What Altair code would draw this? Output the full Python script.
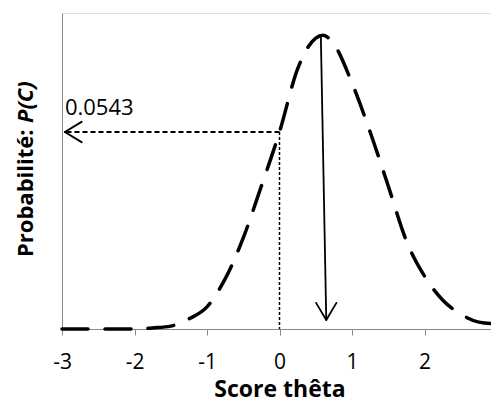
import altair as alt
import pandas as pd

# Curve values
theta = [-3.0, -2.75, -2.5, -2.25, -2.0, -1.75, -1.5, -1.25, -1.0, -0.75, -0.5, -0.25,
         0.0, 0.25, 0.5, 0.6, 0.75, 1.0, 1.25, 1.5, 1.75, 2.0, 2.25, 2.5, 2.75, 3.0]
prob = [0.0, 0.0, 0.0, 0.0, 0.0, 0.0003, 0.0008, 0.0028, 0.0061, 0.0138, 0.0251, 0.0394,
        0.0543, 0.0717, 0.0802, 0.0810, 0.0785, 0.0678, 0.0543, 0.0394, 0.0243, 0.0146,
        0.0080, 0.0041, 0.0019, 0.0014]

x_ticks = [-3, -2.5, -2, -1.5, -1, -0.5, 0, 0.5, 1, 1.5, 2, 2.5, 3]

# Annotations
ref_theta = 0.0
ref_prob = 0.0543
ref_label = "0.0543"
left_tip = -2.96
peak_top = (0.57, 0.0810)
peak_tip = (0.645, 0.0025)

curve_df = pd.DataFrame({"theta": theta, "p": prob})

x_scale = alt.Scale(domain=[-3, 3], nice=False, zero=False)
y_scale = alt.Scale(domain=[0, 0.0871], nice=False, zero=True)
GRAY = "#898989"

curve = alt.Chart(curve_df).mark_line(
    color="black", strokeWidth=3.5, strokeDash=[26, 17], strokeCap="round",
    interpolate="monotone"
).encode(
    x=alt.X("theta:Q", scale=x_scale, axis=alt.Axis(
        values=x_ticks, title="Score thêta", grid=False,
        labelExpr="datum.value % 1 == 0 ? '' + datum.value : ''",
        domainColor=GRAY, tickColor=GRAY, tickSize=6, labelFlush=False,
        labelFont="Open Sans", labelFontSize=21, labelColor="black",
        labelBaseline="alphabetic", labelPadding=33, labelOverlap=False,
        titleFont="Open Sans", titleFontSize=23, titleFontWeight="bold",
        titleColor="black", titleBaseline="alphabetic", titleY=67)),
    y=alt.Y("p:Q", scale=y_scale, axis=alt.Axis(
        title=None, labels=False, ticks=False, grid=False, domainColor=GRAY)),
)

# horizontal dashed arrow shaft
hdf = pd.DataFrame({"x": [ref_theta], "x2": [left_tip], "y": [ref_prob], "y2": [ref_prob]})
hline = alt.Chart(hdf).mark_rule(color="black", strokeWidth=2, strokeDash=[5, 3]).encode(
    x=alt.X("x:Q", scale=x_scale), x2="x2:Q",
    y=alt.Y("y:Q", scale=y_scale), y2="y2:Q")

# vertical dotted line
vdf = pd.DataFrame({"x": [ref_theta], "x2": [ref_theta], "y": [ref_prob], "y2": [0.0]})
vline = alt.Chart(vdf).mark_rule(color="black", strokeWidth=1.5, strokeDash=[3, 2]).encode(
    x=alt.X("x:Q", scale=x_scale), x2="x2:Q",
    y=alt.Y("y:Q", scale=y_scale), y2="y2:Q")

# peak arrow shaft
pdf = pd.DataFrame({"x": [peak_top[0]], "x2": [peak_tip[0]], "y": [peak_top[1]], "y2": [peak_tip[1]]})
pline = alt.Chart(pdf).mark_rule(color="black", strokeWidth=1.8).encode(
    x=alt.X("x:Q", scale=x_scale), x2="x2:Q",
    y=alt.Y("y:Q", scale=y_scale), y2="y2:Q")

# arrow heads (chevrons)
heads = pd.DataFrame({
    "x": [left_tip, left_tip, peak_tip[0], peak_tip[0]],
    "x2": [left_tip + 0.23, left_tip + 0.23, peak_tip[0] - 0.14, peak_tip[0] + 0.14],
    "y": [ref_prob, ref_prob, peak_tip[1], peak_tip[1]],
    "y2": [ref_prob + 0.0028, ref_prob - 0.0028, peak_tip[1] + 0.0047, peak_tip[1] + 0.0047],
    "w": [2.0, 2.0, 1.8, 1.8],
})
head_marks = alt.Chart(heads).mark_rule(color="black", strokeCap="round").encode(
    x=alt.X("x:Q", scale=x_scale), x2="x2:Q",
    y=alt.Y("y:Q", scale=y_scale), y2="y2:Q",
    strokeWidth=alt.StrokeWidth("w:Q", scale=None, legend=None))

# value label
ldf = pd.DataFrame({"x": [left_tip], "y": [ref_prob], "t": [ref_label]})
label = alt.Chart(ldf).mark_text(
    align="left", baseline="alphabetic", dy=-17, font="Open Sans", fontSize=22, color="black"
).encode(x=alt.X("x:Q", scale=x_scale), y=alt.Y("y:Q", scale=y_scale), text="t:N")

# y title in two styles
yt1 = alt.Chart(pd.DataFrame({"t": ["Probabilité:"]})).mark_text(
    angle=270, align="left", baseline="middle", font="Open Sans", fontSize=22,
    fontWeight="bold", color="black"
).encode(x=alt.value(-36), y=alt.value(244), text="t:N")
yt2 = alt.Chart(pd.DataFrame({"t": ["P(C)"]})).mark_text(
    angle=270, align="left", baseline="middle", font="Open Sans", fontSize=22,
    fontWeight="bold", fontStyle="italic", color="black"
).encode(x=alt.value(-36), y=alt.value(110), text="t:N")

chart = alt.layer(curve, hline, vline, pline, head_marks, label, yt1, yt2).properties(
    width=435, height=316,
    autosize=alt.AutoSizeParams(type="none"),
    padding={"left": 54, "top": 5, "right": -6, "bottom": 70},
).configure_view(stroke=GRAY, strokeWidth=1).configure(background="white")

chart.save("out.html", embed_options={"renderer": "svg", "actions": False})
